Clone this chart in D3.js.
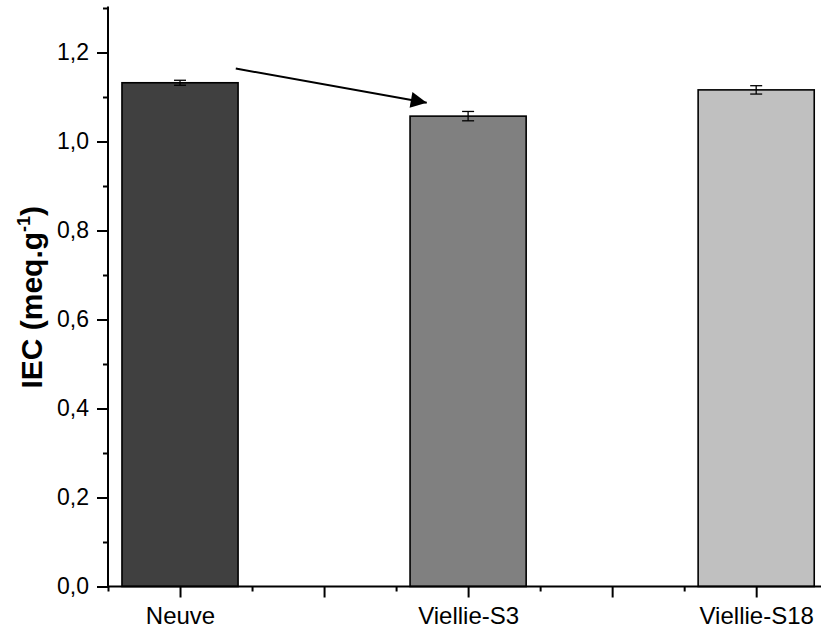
<!DOCTYPE html>
<html>
<head>
<meta charset="utf-8">
<script src="https://cdn.jsdelivr.net/npm/d3@7"></script>
<style>
  html, body { margin: 0; padding: 0; background: #fff; }
  svg { display: block; font-family: "Liberation Sans", Arial, sans-serif; }
</style>
</head>
<body>
<svg id="chart" width="821" height="631"></svg>
<script>
// ---- data ----
const categories = ["Neuve", "Viellie-S3", "Viellie-S18"];
const catPos = [1, 3, 5];
const values = [1.132, 1.057, 1.116];
const errors = [0.0056, 0.0105, 0.0094];
const colors = ["#404040", "#808080", "#c0c0c0"];
const yTicks = [0, 0.2, 0.4, 0.6, 0.8, 1.0, 1.2];
const yMinorTicks = [0.1, 0.3, 0.5, 0.7, 0.9, 1.1, 1.3];
const xMajorTicks = [1, 2, 3, 4, 5];
const xMinorTicks = [0.5, 1.5, 2.5, 3.5, 4.5];
const arrowFrom = [1.387, 1.164];
const arrowTo = [2.713, 1.087];

const svg = d3.select("#chart");
const x = d3.scaleLinear().domain([0.5, 5.45]).range([108, 821]);
const y = d3.scaleLinear().domain([0, 1.3]).range([586.5, 8]);
const barHalf = 0.403;

// bars
svg.append("g").selectAll("rect").data(values).join("rect")
  .attr("x", (d, i) => x(catPos[i] - barHalf))
  .attr("y", d => y(d))
  .attr("width", (d, i) => x(catPos[i] + barHalf) - x(catPos[i] - barHalf))
  .attr("height", d => y(0) - y(d))
  .attr("fill", (d, i) => colors[i])
  .attr("stroke", "#000")
  .attr("stroke-width", 1.6);

// error bars
const eb = svg.append("g").attr("stroke", "#000").attr("stroke-width", 1.3);
values.forEach((v, i) => {
  const cx = x(catPos[i]);
  eb.append("line").attr("x1", cx).attr("x2", cx).attr("y1", y(v + errors[i])).attr("y2", y(v - errors[i]));
  eb.append("line").attr("x1", cx - 6).attr("x2", cx + 6).attr("y1", y(v + errors[i])).attr("y2", y(v + errors[i]));
  eb.append("line").attr("x1", cx - 6).attr("x2", cx + 6).attr("y1", y(v - errors[i])).attr("y2", y(v - errors[i]));
});

// arrow
svg.append("defs").append("marker")
  .attr("id", "ah").attr("markerUnits", "userSpaceOnUse")
  .attr("viewBox", "0 0 16 16").attr("refX", 16).attr("refY", 8)
  .attr("markerWidth", 17).attr("markerHeight", 16).attr("orient", "auto")
  .append("path").attr("d", "M0,0 L16,8 L0,16 Z").attr("fill", "#000");
svg.append("line")
  .attr("x1", x(arrowFrom[0])).attr("y1", y(arrowFrom[1]))
  .attr("x2", x(arrowTo[0])).attr("y2", y(arrowTo[1]))
  .attr("stroke", "#000").attr("stroke-width", 2)
  .attr("marker-end", "url(#ah)");

// y axis
const yAxis = svg.append("g").attr("transform", "translate(108,0)")
  .call(d3.axisLeft(y).tickValues(yTicks).tickSize(11).tickPadding(8)
    .tickFormat(d => d.toFixed(1).replace(".", ",")));
svg.append("g").attr("transform", "translate(108,0)")
  .call(d3.axisLeft(y).tickValues(yMinorTicks).tickSize(5).tickFormat(""))
  .call(g => g.select(".domain").remove());
yAxis.select(".domain").attr("d", `M0,${y(0) + 1}V${y(1.3) - 1.5}`);

// x axis
const xAxis = svg.append("g").attr("transform", `translate(0,${y(0)})`)
  .call(d3.axisBottom(x).tickValues(xMajorTicks).tickSize(11).tickPadding(9)
    .tickFormat(d => { const k = catPos.indexOf(d); return k >= 0 ? categories[k] : ""; }));
svg.append("g").attr("transform", `translate(0,${y(0)})`)
  .call(d3.axisBottom(x).tickValues(xMinorTicks).tickSize(5).tickFormat(""))
  .call(g => g.select(".domain").remove());
xAxis.select(".domain").attr("d", `M107,0H821`);

svg.selectAll(".domain, .tick line").attr("stroke", "#000").attr("stroke-width", 2);
yAxis.selectAll("text").attr("font-size", 23).attr("fill", "#000")
  .attr("font-family", "'Liberation Sans', Arial, sans-serif");
xAxis.selectAll("text").attr("font-size", 24).attr("fill", "#000")
  .attr("font-family", "'Liberation Sans', Arial, sans-serif");

// y title
const title = svg.append("text")
  .attr("transform", `translate(42,${(y(0) + y(1.3)) / 2}) rotate(-90)`)
  .attr("text-anchor", "middle")
  .attr("font-size", 30).attr("font-weight", "bold").attr("fill", "#000");
title.append("tspan").text("IEC (meq.g");
title.append("tspan").attr("font-size", 18).attr("dy", -12).text("-1");
title.append("tspan").attr("dy", 12).text(")");
</script>
</body>
</html>
